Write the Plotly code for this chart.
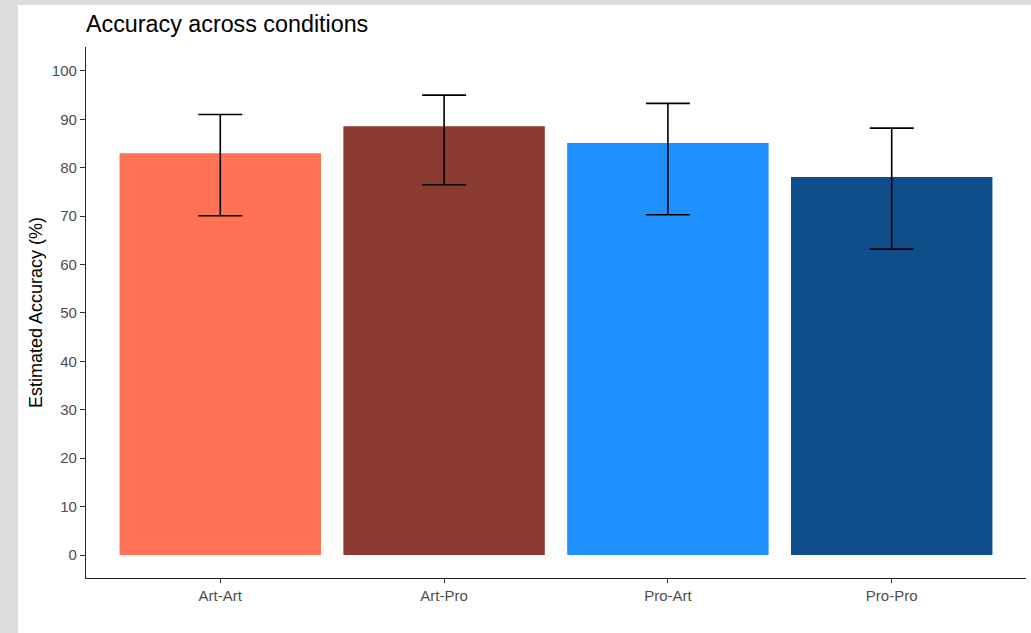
import plotly.graph_objects as go

conditions = ["Art-Art", "Art-Pro", "Pro-Art", "Pro-Pro"]
accuracy = [83.0, 88.6, 85.1, 78.1]
ci_upper = [91.0, 95.0, 93.3, 88.2]
ci_lower = [70.1, 76.5, 70.3, 63.2]
bar_colors = ["#FF7256", "#8B3A2F", "#1E90FF", "#104E8B"]

err_plus = [u - a for u, a in zip(ci_upper, accuracy)]
err_minus = [a - l for a, l in zip(accuracy, ci_lower)]

fig = go.Figure()
fig.add_trace(go.Bar(
    x=conditions, y=accuracy, width=0.9,
    marker=dict(color=bar_colors, line=dict(width=0)),
    error_y=dict(type="data", symmetric=False, array=err_plus, arrayminus=err_minus,
                 color="black", thickness=1.6, width=22),
    showlegend=False,
))

# light grey frame around the white panel, like the source screenshot
fig.add_shape(type="rect", xref="paper", yref="paper",
              x0=-0.0723, x1=1.1, y0=-0.2, y1=1.0791,
              fillcolor="white", line=dict(width=0), layer="below")

fig.update_layout(
    width=1031, height=633,
    margin=dict(l=86, r=5, t=47, b=55),
    paper_bgcolor="#dddddd", plot_bgcolor="white",
    font=dict(family="Liberation Sans, Arial, sans-serif", color="#4d4d4d"),
    title=dict(text="Accuracy across conditions", x=0, xref="paper", xanchor="left",
               y=0.962, yref="container", yanchor="middle",
               font=dict(size=23.3, color="black")),
)
fig.update_xaxes(range=[-0.6, 3.6], showline=True, linecolor="#222", linewidth=1.3,
                 ticks="outside", ticklen=4, tickcolor="#333", tickwidth=1.2,
                 tickfont=dict(size=15, color="#4d4d4d"), showgrid=False, zeroline=False)
fig.update_yaxes(range=[-4.75, 104.95], tickvals=list(range(0, 101, 10)),
                 showline=True, linecolor="#222", linewidth=1.3,
                 ticks="outside", ticklen=5, tickcolor="#333", tickwidth=1.2,
                 tickfont=dict(size=15, color="#4d4d4d"), showgrid=False, zeroline=False,
                 title=dict(text="Estimated Accuracy (%)", standoff=4,
                            font=dict(size=18, color="black")))

# drop the default page margin so the figure sits at the window's top-left corner
fig.write_html("out.html", config={"displayModeBar": False},
               post_script="document.body.style.margin='0';document.body.style.background='#dddddd';")
